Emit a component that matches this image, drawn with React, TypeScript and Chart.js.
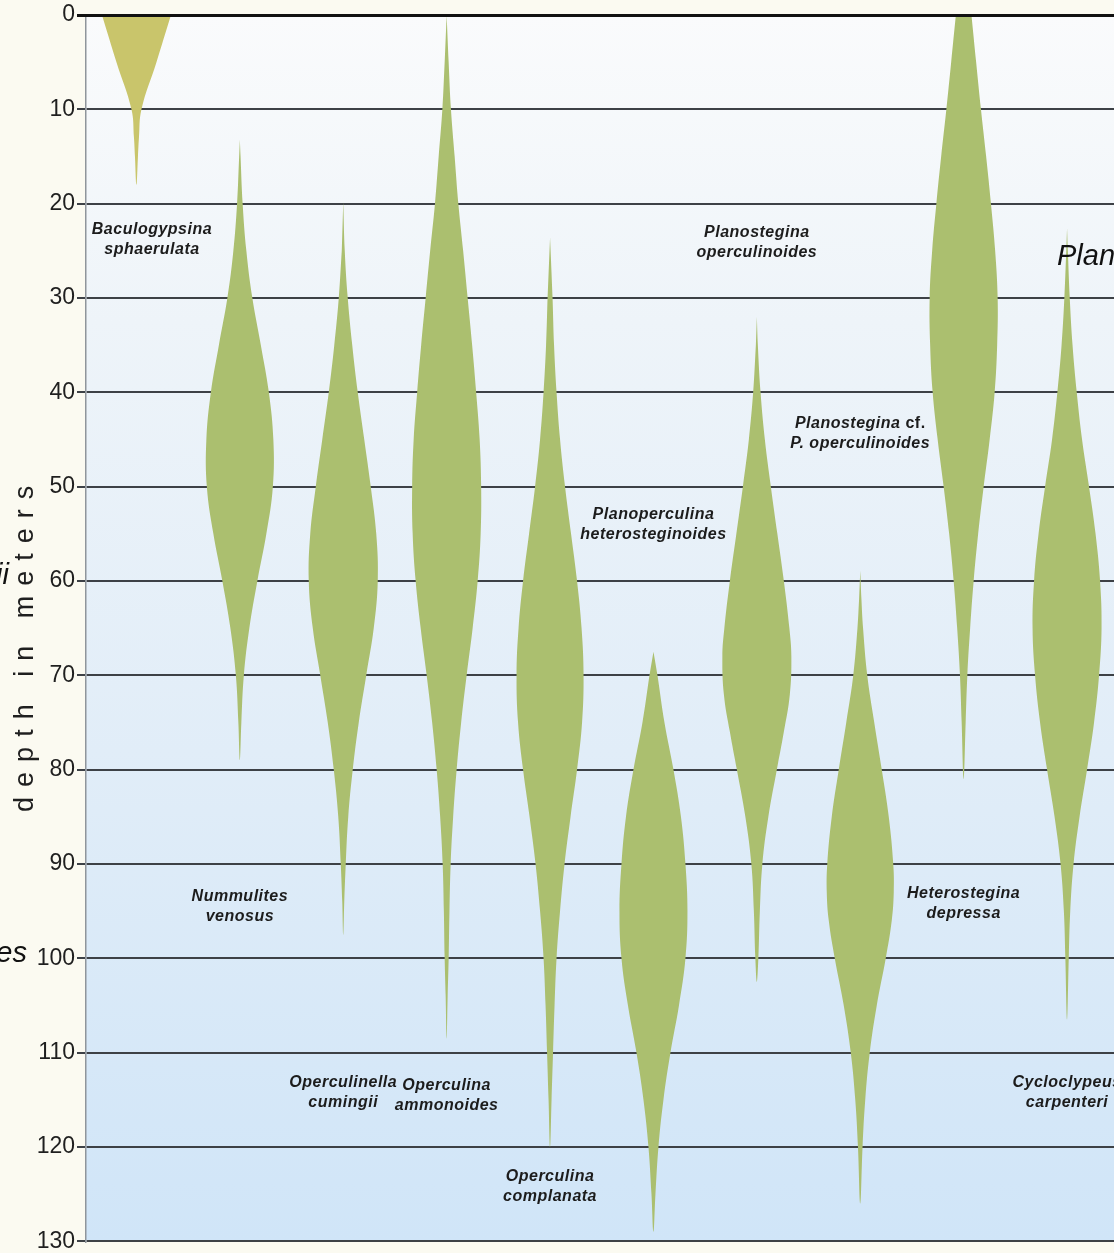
import React, { useEffect, useRef } from 'react';
import { Chart, registerables } from 'chart.js';

Chart.register(...registerables);

// ---------- data ----------
const SPECIES = [
  'Baculogypsina sphaerulata',
  'Nummulites venosus',
  'Operculinella cumingii',
  'Operculina ammonoides',
  'Operculina complanata',
  'Planoperculina heterosteginoides',
  'Planostegina operculinoides',
  'Planostegina cf. P. operculinoides',
  'Heterostegina depressa',
  'Cycloclypeus carpenteri',
];

// [depth in meters, half-width of the spindle (relative abundance)]
const BACULOGYPSINA: [number, number][] = [[0, 34.5], [5, 20], [10, 5], [13, 2.5], [15, 1.5], [18, 0]];
const NUMMULITES: [number, number][] = [[13.2, 0], [15, 0.7], [20, 2.8], [25, 6.5], [30, 12.5], [35, 21], [40, 29], [45, 33.5], [50, 33], [55, 26.5], [60, 17.5], [65, 9.5], [70, 4], [75, 1.5], [79, 0]];
const OPERCULINELLA: [number, number][] = [[19.8, 0], [25, 1.5], [30, 4.5], [35, 9], [40, 14.5], [45, 21], [50, 27.5], [55, 33], [60, 34.5], [65, 30.5], [70, 23], [75, 15.5], [80, 9.5], [85, 5], [90, 2.5], [94, 1], [97.5, 0]];
const OPERCULINA_AMMONOIDES: [number, number][] = [[0, 0], [5, 2], [10, 4.3], [15, 8], [20, 11.7], [25, 16.5], [30, 21], [35, 25.5], [40, 29.5], [45, 33], [50, 34.5], [55, 34], [60, 31], [65, 26], [70, 20], [75, 14.5], [80, 10], [85, 6.5], [90, 4], [95, 2.8], [100, 2], [104, 1], [108.5, 0]];
const OPERCULINA_COMPLANATA: [number, number][] = [[23.6, 0], [30, 2.5], [35, 4], [40, 6.5], [45, 10], [50, 15], [55, 21], [60, 27], [65, 31.5], [70, 33.5], [75, 32], [80, 27], [85, 20.5], [90, 14.5], [95, 10], [100, 6.5], [105, 4.5], [110, 3], [115, 1.5], [120, 0]];
const PLANOPERCULINA: [number, number][] = [[67.5, 0], [70, 4], [75, 11], [80, 20], [85, 27.5], [90, 32], [95, 34], [100, 32], [105, 25.5], [110, 17], [115, 10], [120, 5], [125, 2], [129, 0]];
const PLANOSTEGINA: [number, number][] = [[32, 0], [35, 1], [40, 3.7], [45, 8], [50, 14], [55, 20.5], [60, 27], [65, 32.5], [68, 34.5], [72, 33], [76, 27], [80, 20], [85, 11.5], [90, 5.5], [95, 3], [100, 1.5], [102.5, 0]];
const PLANOSTEGINA_CF: [number, number][] = [[58.9, 0], [62, 1.2], [65, 2.8], [70, 7], [75, 14], [80, 21.5], [85, 28.5], [90, 33], [93, 33.5], [96, 31.5], [100, 25.5], [105, 16.5], [110, 9.5], [115, 5], [120, 2.3], [126, 0]];
const HETEROSTEGINA: [number, number][] = [[0, 7.8], [5, 12.5], [10, 17.3], [15, 22.5], [20, 27.3], [25, 31.5], [30, 34], [35, 33.5], [40, 31], [45, 26], [50, 20], [55, 14.5], [60, 10], [65, 6.5], [70, 3.7], [75, 2], [81, 0]];
const CYCLOCLYPEUS: [number, number][] = [[22.6, 0], [25, 0.8], [30, 2.7], [35, 5.5], [40, 9.7], [45, 15], [50, 22], [55, 28.5], [60, 33], [65, 34.5], [70, 32], [75, 27], [80, 20], [85, 12.5], [90, 6.5], [95, 3.2], [100, 1.7], [106.5, 0]];

const PROFILES = [
  BACULOGYPSINA, NUMMULITES, OPERCULINELLA, OPERCULINA_AMMONOIDES, OPERCULINA_COMPLANATA,
  PLANOPERCULINA, PLANOSTEGINA, PLANOSTEGINA_CF, HETEROSTEGINA, CYCLOCLYPEUS,
];

const Y_TICKS = [0, 10, 20, 30, 40, 50, 60, 70, 80, 90, 100, 110, 120, 130];

// species label text (two lines), label column and label depth
const LABEL_LINES = [
  ['Baculogypsina', 'sphaerulata'],
  ['Nummulites', 'venosus'],
  ['Operculinella', 'cumingii'],
  ['Operculina', 'ammonoides'],
  ['Operculina', 'complanata'],
  ['Planoperculina', 'heterosteginoides'],
  ['Planostegina', 'operculinoides'],
  ['Planostegina cf.', 'P. operculinoides'],
  ['Heterostegina', 'depressa'],
  ['Cycloclypeus', 'carpenteri'],
];
const LABEL_COLUMN = [0.15, 1, 2, 3, 4, 5, 6, 7, 8, 9];
const LABEL_DEPTH = [22.8, 93.5, 113.2, 113.5, 123.1, 53.0, 23.1, 43.3, 93.1, 113.2];

// fragments of neighbouring labels cut by the picture's edges
const EDGE_TEXT = ['cumingii', 'ammonoides', 'Planostegina'];
const EDGE_COLUMN = [-1.233, -1.059, 8.903];
const EDGE_DEPTH = [59.5, 99.5, 25.6];
const EDGE_ALIGN: CanvasTextAlign[] = ['right', 'right', 'left'];

// ---------- layout / style ----------
const SLOT_PX = 103.4; // half-width units per column
const X_MIN = -0.488;
const X_MAX = 9.454;
const GREEN = '#abbf6f';
const YELLOW = '#c9c56b';
const SANS = '"Liberation Sans", Arial, Helvetica, sans-serif';

function outline(col: number, profile: [number, number][]) {
  const right = profile.map(([d, w]) => ({ x: col + w / SLOT_PX, y: d }));
  const left = profile
    .slice()
    .reverse()
    .filter(([, w]) => w > 0)
    .map(([d, w]) => ({ x: col - w / SLOT_PX, y: d }));
  return [...right, ...left];
}

const decorPlugin = {
  id: 'decor',
  beforeDraw(chart: any) {
    const { ctx, chartArea: a, width, height } = chart;
    ctx.save();
    ctx.fillStyle = '#fbfaf1';
    ctx.fillRect(0, 0, width, height);
    const g = ctx.createLinearGradient(0, a.top, 0, a.bottom);
    g.addColorStop(0, '#fafbfc');
    g.addColorStop(0.25, '#eef4f9');
    g.addColorStop(0.6, '#e1edf8');
    g.addColorStop(1, '#d0e5f8');
    ctx.fillStyle = g;
    ctx.fillRect(a.left, a.top, a.right - a.left, a.bottom - a.top);
    ctx.restore();
  },
  afterDatasetsDraw(chart: any) {
    const { ctx, scales } = chart;
    const xs = scales.x;
    const ys = scales.y;
    ctx.save();
    ctx.fillStyle = '#1c1c1c';
    ctx.textBaseline = 'middle';
    (ctx as any).letterSpacing = '0.5px';
    const italic = `italic bold 16px ${SANS}`;
    const roman = `bold 16px ${SANS}`;
    LABEL_LINES.forEach((lines, i) => {
      const cx = xs.getPixelForValue(LABEL_COLUMN[i]);
      const cy = ys.getPixelForValue(LABEL_DEPTH[i]);
      lines.forEach((line, k) => {
        const y = cy + k * 20;
        if (line.endsWith(' cf.')) {
          const a = line.slice(0, -4);
          const b = ' cf.';
          ctx.font = italic;
          const wa = ctx.measureText(a).width;
          ctx.font = roman;
          const wb = ctx.measureText(b).width;
          const x0 = cx - (wa + wb) / 2;
          ctx.textAlign = 'left';
          ctx.font = italic;
          ctx.fillText(a, x0, y);
          ctx.font = roman;
          ctx.fillText(b, x0 + wa, y);
        } else {
          ctx.font = italic;
          ctx.textAlign = 'center';
          ctx.fillText(line, cx, y);
        }
      });
    });
    ctx.restore();
  },
  afterDraw(chart: any) {
    const { ctx, scales } = chart;
    const xs = scales.x;
    const ys = scales.y;
    ctx.save();
    // edge fragments
    ctx.fillStyle = '#111';
    ctx.font = `italic 29px ${SANS}`;
    ctx.textBaseline = 'middle';
    EDGE_TEXT.forEach((t, i) => {
      ctx.textAlign = EDGE_ALIGN[i];
      ctx.fillText(t, xs.getPixelForValue(EDGE_COLUMN[i]), ys.getPixelForValue(EDGE_DEPTH[i]));
    });
    // axis title
    const ls = 10;
    ctx.fillStyle = '#1f1f1f';
    ctx.font = `27px ${SANS}`;
    (ctx as any).letterSpacing = `${ls}px`;
    ctx.translate(33, ys.getPixelForValue(67.2));
    ctx.rotate(-Math.PI / 2);
    ctx.textAlign = 'center';
    ctx.textBaseline = 'alphabetic';
    ctx.fillText('depth in meters', ls / 2, 0);
    ctx.restore();
  },
};

export default function App() {
  const ref = useRef<HTMLCanvasElement>(null);
  useEffect(() => {
    const datasets = PROFILES.map((p, i) => ({
      label: SPECIES[i],
      data: outline(i, p),
      fill: 'shape',
      backgroundColor: i === 0 ? YELLOW : GREEN,
      borderColor: 'rgba(0,0,0,0)',
      borderWidth: 0,
      pointRadius: 0,
      pointHoverRadius: 0,
      tension: 0.4,
    }));
    const chart = new Chart(ref.current as HTMLCanvasElement, {
      type: 'line',
      data: { datasets: datasets as any },
      options: {
        responsive: false,
        animation: false,
        events: [],
        layout: { padding: { top: 15, bottom: 10, left: 0, right: 0 } },
        plugins: {
          legend: { display: false },
          tooltip: { enabled: false },
          title: { display: false },
        },
        scales: {
          x: {
            type: 'linear',
            position: 'top',
            min: X_MIN,
            max: X_MAX,
            ticks: { display: false },
            grid: { display: false, drawTicks: false },
            border: { display: true, color: '#111', width: 3, z: 1 },
            afterFit: (s: any) => { s.height = 0; },
          },
          y: {
            type: 'linear',
            reverse: true,
            min: 0,
            max: 130,
            afterBuildTicks: (s: any) => { s.ticks = Y_TICKS.map((v) => ({ value: v })); },
            ticks: {
              color: '#1f1f1f',
              padding: 2,
              font: { family: SANS, size: 23, lineHeight: 0.85 },
            },
            grid: {
              color: (c: any) => (c.tick && c.tick.value === 0 ? '#111' : '#3d4146'),
              lineWidth: (c: any) => (c.tick && c.tick.value === 0 ? 3 : 2),
              tickLength: 9,
              drawTicks: true,
            },
            border: { display: true, color: '#8f959b', width: 1.5 },
            afterFit: (s: any) => { s.width = 86; },
          },
        },
      } as any,
      plugins: [decorPlugin],
    });
    return () => chart.destroy();
  }, []);
  return (
    <div style={{ position: 'absolute', left: 0, top: 0, width: 1114, height: 1253, overflow: 'hidden', background: '#fbfaf1' }}>
      <canvas ref={ref} width={1114} height={1253} style={{ display: 'block', width: 1114, height: 1253 }} />
    </div>
  );
}
